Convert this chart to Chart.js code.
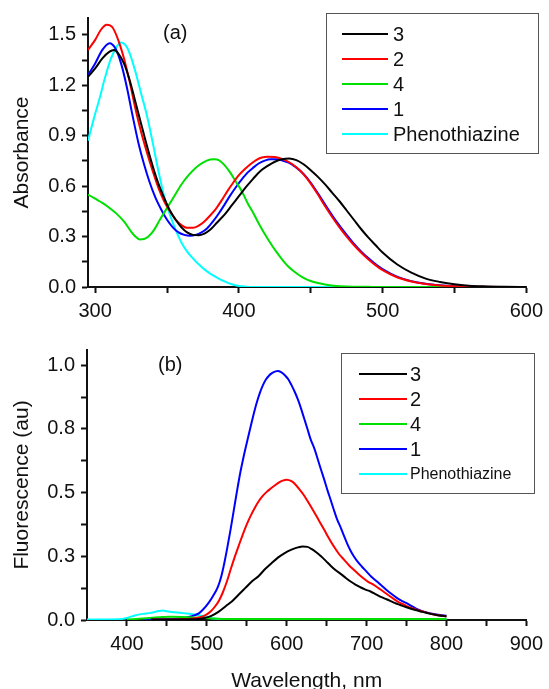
<!DOCTYPE html>
<html lang="en">
<head>
  <meta charset="UTF-8" />
  <title>Absorbance and fluorescence spectra</title>
  <script src="https://cdn.jsdelivr.net/npm/chart.js"></script>
  <style>
    html, body { margin: 0; padding: 0; background: #fff; overflow: hidden; }
    .panel { position: absolute; left: 0; width: 549px; }
    #top { top: 0; height: 330px; }
    #bottom { top: 330px; height: 359px; }
  </style>
</head>
<body>
  <div class="panel" id="top"><canvas id="absChart" width="549" height="330"></canvas></div>
  <div class="panel" id="bottom"><canvas id="fluChart" width="549" height="359"></canvas></div>

  <script>
    // ---- (a) absorbance: wavelengths (nm) and values per compound ----
    const absWl3 = [295, 300, 305, 310, 313, 316, 320, 324, 328, 332, 336, 340, 344, 348, 352, 356, 360, 364, 368, 372, 376, 380, 385, 390, 395, 400, 405, 410, 415, 420, 425, 430, 435, 440, 445, 450, 455, 460, 465, 470, 475, 480, 485, 490, 495, 500, 510, 520, 530, 540, 550, 560, 570, 585, 600];
    const abs3   = [1.25, 1.30, 1.36, 1.40, 1.41, 1.39, 1.33, 1.23, 1.10, 0.97, 0.84, 0.72, 0.615, 0.53, 0.455, 0.40, 0.355, 0.325, 0.31, 0.308, 0.318, 0.34, 0.385, 0.43, 0.485, 0.54, 0.595, 0.645, 0.69, 0.72, 0.745, 0.76, 0.765, 0.755, 0.73, 0.695, 0.655, 0.61, 0.56, 0.51, 0.455, 0.40, 0.345, 0.295, 0.25, 0.205, 0.135, 0.085, 0.05, 0.03, 0.016, 0.008, 0.004, 0.001, 0];

    const absWl2 = [295, 300, 304, 308, 312, 316, 320, 324, 328, 332, 336, 340, 344, 348, 352, 356, 360, 364, 368, 372, 376, 380, 384, 388, 392, 396, 400, 404, 408, 412, 416, 420, 425, 430, 435, 440, 445, 450, 455, 460, 465, 470, 475, 480, 485, 490, 495, 500, 510, 520, 530, 540, 550, 560, 600];
    const abs2   = [1.41, 1.47, 1.53, 1.56, 1.545, 1.47, 1.36, 1.22, 1.06, 0.92, 0.80, 0.69, 0.59, 0.51, 0.45, 0.40, 0.368, 0.352, 0.352, 0.365, 0.39, 0.425, 0.465, 0.515, 0.57, 0.62, 0.665, 0.70, 0.73, 0.755, 0.77, 0.775, 0.773, 0.762, 0.742, 0.712, 0.67, 0.615, 0.55, 0.48, 0.415, 0.355, 0.30, 0.25, 0.205, 0.165, 0.13, 0.10, 0.058, 0.033, 0.018, 0.009, 0.004, 0.002, 0];

    const absWl4 = [295, 300, 305, 310, 315, 320, 325, 328, 331, 334, 337, 341, 345, 350, 355, 360, 365, 370, 375, 380, 383, 386, 390, 394, 398, 402, 406, 410, 414, 418, 422, 426, 430, 434, 438, 442, 446, 450, 455, 460, 466, 475, 490, 500, 600];
    const abs4   = [0.55, 0.525, 0.50, 0.47, 0.435, 0.39, 0.33, 0.30, 0.283, 0.285, 0.30, 0.34, 0.40, 0.47, 0.54, 0.61, 0.665, 0.71, 0.74, 0.758, 0.76, 0.755, 0.725, 0.68, 0.625, 0.57, 0.50, 0.44, 0.375, 0.315, 0.26, 0.21, 0.165, 0.125, 0.095, 0.07, 0.05, 0.036, 0.024, 0.015, 0.008, 0.003, 0.001, 0, 0];

    const absWl1 = [295, 300, 305, 310, 314, 318, 322, 326, 330, 334, 338, 342, 346, 350, 354, 358, 362, 366, 370, 374, 378, 382, 386, 390, 394, 398, 402, 406, 410, 414, 418, 422, 426, 430, 435, 440, 445, 450, 455, 460, 465, 470, 475, 480, 485, 490, 495, 500, 510, 520, 530, 540, 550, 560, 600];
    const abs1   = [1.26, 1.33, 1.41, 1.45, 1.42, 1.33, 1.19, 1.02, 0.86, 0.73, 0.62, 0.53, 0.46, 0.40, 0.355, 0.325, 0.31, 0.305, 0.31, 0.325, 0.35, 0.39, 0.437, 0.49, 0.545, 0.595, 0.64, 0.68, 0.71, 0.736, 0.752, 0.76, 0.76, 0.753, 0.738, 0.71, 0.672, 0.62, 0.557, 0.49, 0.425, 0.365, 0.31, 0.258, 0.212, 0.172, 0.137, 0.107, 0.062, 0.035, 0.019, 0.01, 0.005, 0.002, 0];

    const absWlP = [295, 299, 303, 307, 311, 315, 318, 321, 324, 328, 332, 336, 340, 344, 348, 352, 356, 360, 364, 368, 372, 376, 380, 385, 390, 395, 400, 405, 410, 600];
    const absP   = [0.87, 1.00, 1.12, 1.25, 1.36, 1.43, 1.455, 1.44, 1.39, 1.28, 1.15, 1.02, 0.86, 0.69, 0.54, 0.43, 0.34, 0.265, 0.21, 0.17, 0.135, 0.105, 0.08, 0.055, 0.033, 0.016, 0.006, 0.002, 0, 0];

    // ---- (b) fluorescence ----
    const fluWl3 = [430, 480, 495, 505, 515, 524, 532, 540, 548, 556, 565, 573, 581, 589, 597, 606, 614, 620, 626, 631, 637, 643, 649, 655, 661, 668, 674, 680, 686, 692, 698, 705, 711, 717, 723, 729, 735, 742, 750, 760, 770, 780, 790, 800];
    const flu3   = [0.002, 0.003, 0.006, 0.015, 0.033, 0.055, 0.075, 0.10, 0.125, 0.15, 0.173, 0.20, 0.223, 0.245, 0.262, 0.276, 0.285, 0.289, 0.287, 0.279, 0.266, 0.25, 0.232, 0.213, 0.196, 0.18, 0.165, 0.151, 0.139, 0.129, 0.12, 0.112, 0.102, 0.092, 0.084, 0.076, 0.067, 0.059, 0.05, 0.04, 0.032, 0.024, 0.018, 0.014];

    const fluWl2 = [430, 470, 485, 494, 500, 505, 510, 515, 520, 525, 530, 535, 540, 545, 550, 555, 560, 565, 570, 575, 580, 585, 590, 595, 600, 606, 610, 616, 622, 628, 635, 641, 647, 653, 659, 665, 672, 678, 684, 690, 696, 702, 709, 715, 721, 727, 733, 740, 747, 753, 760, 767, 775, 784, 792, 800];
    const flu2   = [0.002, 0.003, 0.007, 0.013, 0.022, 0.034, 0.052, 0.075, 0.108, 0.15, 0.20, 0.248, 0.292, 0.335, 0.375, 0.41, 0.44, 0.466, 0.487, 0.503, 0.516, 0.528, 0.539, 0.547, 0.551, 0.545, 0.535, 0.513, 0.488, 0.457, 0.42, 0.387, 0.354, 0.32, 0.289, 0.261, 0.236, 0.215, 0.197, 0.18, 0.164, 0.15, 0.138, 0.125, 0.112, 0.098, 0.085, 0.07, 0.06, 0.05, 0.043, 0.036, 0.029, 0.022, 0.018, 0.015];

    const fluWl4 = [400, 420, 440, 455, 470, 490, 505, 520, 560, 650, 800];
    const flu4   = [0.002, 0.006, 0.011, 0.013, 0.012, 0.009, 0.006, 0.004, 0.004, 0.004, 0.004];

    const fluWl1 = [420, 450, 470, 480, 490, 495, 502, 508, 514, 518, 522, 526, 530, 534, 538, 542, 546, 550, 554, 558, 562, 566, 570, 574, 578, 582, 586, 589, 593, 598, 602, 606, 610, 614, 618, 622, 626, 630, 635, 639, 643, 647, 651, 655, 659, 663, 668, 672, 676, 680, 684, 688, 694, 700, 706, 713, 719, 725, 731, 737, 743, 750, 756, 762, 768, 775, 784, 792, 800];
    const flu1   = [0.003, 0.003, 0.008, 0.014, 0.026, 0.04, 0.066, 0.095, 0.131, 0.17, 0.225, 0.29, 0.36, 0.435, 0.51, 0.58, 0.64, 0.695, 0.748, 0.80, 0.848, 0.888, 0.92, 0.944, 0.96, 0.97, 0.976, 0.978, 0.973, 0.96, 0.945, 0.922, 0.896, 0.866, 0.83, 0.79, 0.75, 0.709, 0.67, 0.63, 0.59, 0.551, 0.51, 0.472, 0.433, 0.396, 0.36, 0.328, 0.298, 0.272, 0.25, 0.232, 0.21, 0.19, 0.17, 0.151, 0.134, 0.118, 0.103, 0.089, 0.077, 0.066, 0.055, 0.045, 0.037, 0.03, 0.024, 0.02, 0.017];

    const fluWlP = [350, 390, 400, 410, 420, 430, 440, 445, 450, 460, 472, 480, 489, 497, 506, 515, 550, 600, 700, 800];
    const fluP   = [0.002, 0.003, 0.008, 0.018, 0.024, 0.028, 0.035, 0.037, 0.034, 0.03, 0.026, 0.024, 0.02, 0.014, 0.007, 0.004, 0.003, 0.003, 0.003, 0.003];

    // legend order and colours
    const seriesNames  = ['3', '2', '4', '1', 'Phenothiazine'];
    const seriesColors = ['#000000', '#ff0000', '#00e000', '#0000ff', '#00ffff'];

    // axis ticks (major with labels, minor without)
    const absXTicks = [300, 350, 400, 450, 500, 550, 600];
    const absXLabels = ['300', '', '400', '', '500', '', '600'];
    const absYTicks = [0, 0.15, 0.3, 0.45, 0.6, 0.75, 0.9, 1.05, 1.2, 1.35, 1.5];
    const absYLabels = ['0.0', '', '0.3', '', '0.6', '', '0.9', '', '1.2', '', '1.5'];
    const fluXTicks = [400, 450, 500, 550, 600, 650, 700, 750, 800, 850, 900];
    const fluXLabels = ['400', '', '500', '', '600', '', '700', '', '800', '', '900'];
    const fluYTicks = [0, 0.125, 0.25, 0.375, 0.5, 0.625, 0.75, 0.875, 1.0];
    const fluYLabels = ['0.0', '', '0.3', '', '0.5', '', '0.8', '', '1.0'];

    const FONT = "'Liberation Sans', Arial, sans-serif";

    function toPoints(xs, ys) {
      return xs.map((x, i) => ({ x: x, y: ys[i] }));
    }

    function makeDatasets(pairs) {
      return pairs.map((p, i) => ({
        label: seriesNames[i],
        data: toPoints(p[0], p[1]),
        borderColor: seriesColors[i],
        backgroundColor: seriesColors[i],
        borderWidth: 2,
        pointRadius: 0,
        fill: false,
        cubicInterpolationMode: 'monotone'
      }));
    }

    // legend box + panel letter drawn on top of the plot
    const boxLegend = {
      id: 'boxLegend',
      afterDraw(chart, args, opts) {
        const ctx = chart.ctx;
        ctx.save();
        ctx.fillStyle = '#fff';
        ctx.fillRect(opts.x, opts.y, opts.w, opts.h);
        ctx.strokeStyle = '#555';
        ctx.lineWidth = 1;
        ctx.strokeRect(opts.x + 0.5, opts.y + 0.5, opts.w, opts.h);
        chart.data.datasets.forEach((ds, i) => {
          const y = opts.firstY + i * opts.gap;
          ctx.strokeStyle = ds.borderColor;
          ctx.lineWidth = 2;
          ctx.beginPath();
          ctx.moveTo(opts.lineX0, y);
          ctx.lineTo(opts.lineX1, y);
          ctx.stroke();
          ctx.fillStyle = '#111';
          const size = ds.label.length > 2 ? opts.longSize : opts.size;
          ctx.font = size + 'px ' + FONT;
          ctx.textBaseline = 'middle';
          ctx.textAlign = 'left';
          ctx.fillText(ds.label, opts.textX, y + 1);
        });
        ctx.font = '20px ' + FONT;
        ctx.fillStyle = '#111';
        ctx.textBaseline = 'middle';
        ctx.fillText(opts.tag, opts.tagX, opts.tagY);
        ctx.restore();
      }
    };

    function makeScales(o) {
      return {
        x: {
          type: 'linear',
          min: o.xMin, max: o.xMax,
          afterBuildTicks: axis => { axis.ticks = o.xTicks.map(v => ({ value: v })); },
          afterFit: axis => { axis.height = o.xHeight; },
          grid: { drawOnChartArea: false, drawTicks: true, tickLength: 6, tickWidth: 2, tickColor: '#111' },
          border: { display: true, color: '#111', width: 2 },
          ticks: {
            autoSkip: false, maxRotation: 0, padding: 6, color: '#111',
            font: { family: FONT, size: 20 },
            callback: (v, i) => o.xLabels[i]
          },
          title: o.xTitle ? { display: true, text: o.xTitle, color: '#111', font: { family: FONT, size: 21 }, padding: { top: 0, bottom: -5 } } : { display: false }
        },
        y: {
          type: 'linear',
          min: 0, max: o.yMax,
          afterBuildTicks: axis => { axis.ticks = o.yTicks.map(v => ({ value: v })); },
          afterFit: axis => { axis.width = o.yWidth; },
          grid: { drawOnChartArea: false, drawTicks: true, tickLength: 6, tickWidth: 2, tickColor: '#111' },
          border: { display: true, color: '#111', width: 2 },
          ticks: {
            autoSkip: false, padding: 6, color: '#111',
            font: { family: FONT, size: 20 },
            callback: (v, i) => o.yLabels[i]
          },
          title: { display: true, text: o.yTitle, color: '#111', font: { family: FONT, size: 21 }, padding: { top: 10, bottom: 0 } }
        }
      };
    }

    new Chart(document.getElementById('absChart'), {
      type: 'line',
      data: {
        datasets: makeDatasets([[absWl3, abs3], [absWl2, abs2], [absWl4, abs4], [absWl1, abs1], [absWlP, absP]])
      },
      options: {
        responsive: false,
        animation: false,
        devicePixelRatio: 1,
        layout: { padding: { left: 0, right: 19, top: 17, bottom: 0 } },
        scales: makeScales({
          xMin: 295, xMax: 600, xTicks: absXTicks, xLabels: absXLabels, xHeight: 43,
          yMax: 1.6, yTicks: absYTicks, yLabels: absYLabels, yWidth: 88,
          yTitle: 'Absorbance'
        }),
        plugins: {
          legend: { display: false },
          tooltip: { enabled: false },
          boxLegend: {
            x: 326, y: 13, w: 212, h: 140,
            firstY: 34, gap: 25, lineX0: 342, lineX1: 388, textX: 393,
            size: 20, longSize: 20,
            tag: '(a)', tagX: 163, tagY: 33
          }
        }
      },
      plugins: [boxLegend]
    });

    new Chart(document.getElementById('fluChart'), {
      type: 'line',
      data: {
        datasets: makeDatasets([[fluWl3, flu3], [fluWl2, flu2], [fluWl4, flu4], [fluWl1, flu1], [fluWlP, fluP]])
      },
      options: {
        responsive: false,
        animation: false,
        devicePixelRatio: 1,
        layout: { padding: { left: 0, right: 19, top: 20, bottom: 0 } },
        scales: makeScales({
          xMin: 350, xMax: 900, xTicks: fluXTicks, xLabels: fluXLabels, xHeight: 69,
          yMax: 1.06, yTicks: fluYTicks, yLabels: fluYLabels, yWidth: 87,
          yTitle: 'Fluorescence (au)', xTitle: 'Wavelength, nm'
        }),
        plugins: {
          legend: { display: false },
          tooltip: { enabled: false },
          boxLegend: {
            x: 341, y: 23, w: 193, h: 140,
            firstY: 44, gap: 25, lineX0: 359, lineX1: 407, textX: 410,
            size: 20, longSize: 16,
            tag: '(b)', tagX: 158, tagY: 35
          }
        }
      },
      plugins: [boxLegend]
    });
  </script>
</body>
</html>
